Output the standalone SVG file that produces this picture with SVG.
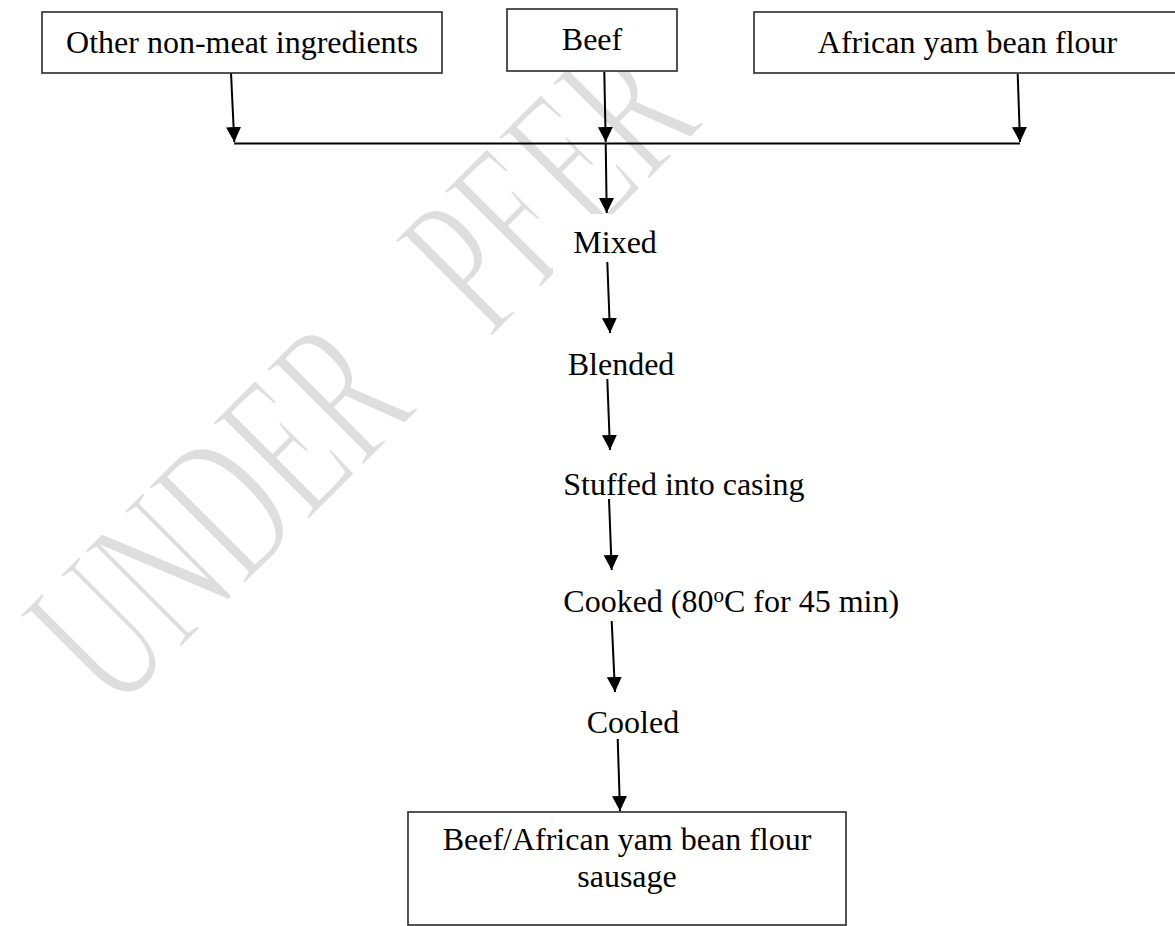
<svg xmlns="http://www.w3.org/2000/svg" width="1175" height="926" viewBox="0 0 1175 926">
  <defs>
    <marker id="ah" markerUnits="userSpaceOnUse" markerWidth="16" markerHeight="16" refX="15" refY="7.5" orient="auto">
      <path d="M0,0 L15,7.5 L0,15 z" fill="#000"/>
    </marker>
    <style>
      .box { fill: #fff; stroke: #2a2a2a; stroke-width: 1.6; }
      .lbl { font-family: "Liberation Serif", "Times New Roman", serif; font-size: 32px; fill: #000; }
      .mid { text-anchor: middle; }
      .sup { font-size: 21px; }
      .ln { stroke: #000; stroke-width: 2; fill: none; }
      .arr { stroke: #000; stroke-width: 2; fill: none; marker-end: url(#ah); }
      .wm { font-family: "Liberation Serif", "Times New Roman", serif; font-size: 212px; fill: #dedede; stroke: #fff; stroke-width: 4; }
    </style>
  </defs>
  <rect width="1175" height="926" fill="#fff"/>

  <g id="watermark" transform="translate(415 415) rotate(-45) scale(0.59 1)">
    <text class="wm" x="-719" y="0">UNDER</text>
    <text class="wm" x="178" y="0">PEER</text>
  </g>

  <g id="connectors">
    <line class="arr" x1="231" y1="73" x2="234.3" y2="142"/>
    <line class="arr" x1="604.3" y1="72" x2="605.7" y2="142"/>
    <line class="arr" x1="1017.7" y1="74" x2="1020" y2="142"/>
    <line class="ln" x1="234" y1="143.5" x2="1020" y2="143.5"/>
    <line class="arr" x1="605.7" y1="143" x2="606.7" y2="213"/>
  </g>

  <g id="n_other">
    <rect class="box" x="42" y="12" width="400" height="61"/>
    <text class="lbl mid" x="242" y="53">Other non-meat ingredients</text>
  </g>
  <g id="n_beef">
    <rect class="box" x="507" y="9" width="170" height="62"/>
    <text class="lbl mid" x="592" y="50">Beef</text>
  </g>
  <g id="n_aybf">
    <rect class="box" x="754" y="12" width="430" height="61"/>
    <text class="lbl mid" x="967.5" y="53">African yam bean flour</text>
  </g>

  <g id="n_mixed">
    <rect x="553" y="214" width="120" height="69" fill="#fff"/>
    <text class="lbl" x="573.3" y="253">Mixed</text>
  </g>
  <g id="n_blended">
    <text class="lbl" x="567.7" y="375">Blended</text>
  </g>
  <g id="n_stuffed">
    <text class="lbl" x="563.3" y="495">Stuffed into casing</text>
  </g>
  <g id="n_cooked">
    <text class="lbl" x="563.3" y="611.7">Cooked (80<tspan class="sup" dy="-10">o</tspan><tspan dy="10">C for 45 min)</tspan></text>
  </g>
  <g id="n_cooled">
    <text class="lbl" x="586.7" y="733.3">Cooled</text>
  </g>
  <g id="n_sausage">
    <rect class="box" x="408" y="812" width="438" height="113"/>
    <text class="lbl mid" x="627" y="850">Beef/African yam bean flour</text>
    <text class="lbl mid" x="627" y="886.7">sausage</text>
  </g>

  <g id="connectors2">
    <line class="arr" x1="607.3" y1="262" x2="610" y2="333"/>
    <line class="arr" x1="607.3" y1="379" x2="610" y2="450"/>
    <line class="arr" x1="609" y1="499" x2="611.7" y2="570"/>
    <line class="arr" x1="611.7" y1="621" x2="615" y2="692"/>
    <line class="arr" x1="617.7" y1="739" x2="620" y2="811"/>
  </g>
</svg>
